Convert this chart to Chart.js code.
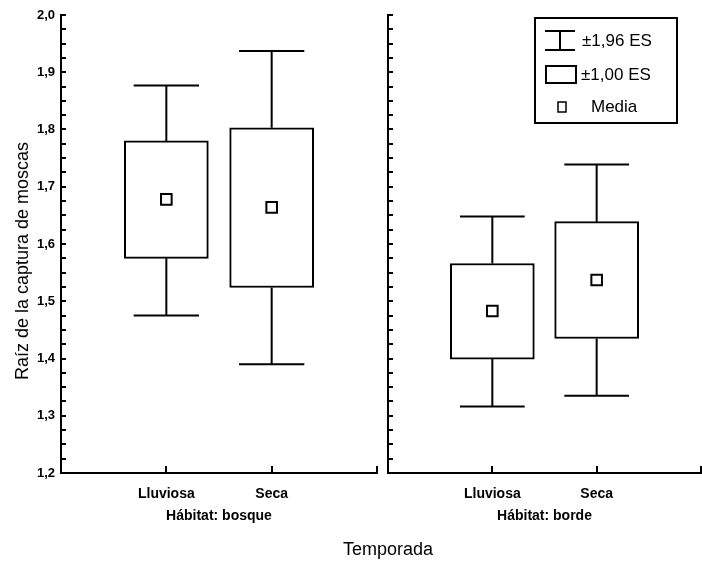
<!DOCTYPE html>
<html lang="es">
<head>
<meta charset="utf-8">
<title>Raíz de la captura de moscas</title>
<script src="https://cdn.jsdelivr.net/npm/chart.js@4.4.1/dist/chart.umd.min.js"></script>
<style>
  html, body { margin: 0; padding: 0; background: #fff; }
  #wrap { position: relative; width: 702px; height: 563px; }
  #wrap canvas { position: absolute; left: 0; top: 0; }
</style>
</head>
<body>
<div id="wrap">
  <canvas id="bosqueChart" width="702" height="563"></canvas>
  <canvas id="bordeChart" width="702" height="563"></canvas>
</div>
<script>
// Seasons on the x axis of each panel
const seasons = ["Lluviosa", "Seca"];

// Habitat "bosque": mean, ±1.00 SE and ±1.96 SE ranges per season
const bosqueMedia = [1.678, 1.664];
const bosqueES100 = [[1.575, 1.780], [1.524, 1.803]];
const bosqueES196 = [[1.475, 1.877], [1.390, 1.937]];

// Habitat "borde"
const bordeMedia = [1.483, 1.537];
const bordeES100 = [[1.399, 1.566], [1.435, 1.639]];
const bordeES196 = [[1.316, 1.648], [1.335, 1.739]];

// Y axis
const yTickValues = [1.2, 1.3, 1.4, 1.5, 1.6, 1.7, 1.8, 1.9, 2.0];
const yTickLabels = ["1,2", "1,3", "1,4", "1,5", "1,6", "1,7", "1,8", "1,9", "2,0"];

const legendLabels = ["±1,96 ES", "±1,00 ES", "Media"];

const FONT = "'Liberation Sans', Arial, Helvetica, sans-serif";
Chart.defaults.font.family = FONT;
Chart.defaults.color = "#000";

const CAP = 0.31; // half width of the whisker caps (x units)

// whisker segments: box edge -> limit, then the cap, split by null gaps
function whiskerData(box, range) {
  const pts = [];
  box.forEach((b, i) => {
    const x = i + 1;
    const [lo, hi] = range[i];
    pts.push(
      { x, y: b[1] }, { x, y: hi }, { x, y: null },
      { x: x - CAP, y: hi }, { x: x + CAP, y: hi }, { x, y: null },
      { x, y: b[0] }, { x, y: lo }, { x, y: null },
      { x: x - CAP, y: lo }, { x: x + CAP, y: lo }, { x, y: null }
    );
  });
  return pts;
}

function yLabel(v) {
  const k = yTickValues.findIndex((t) => Math.abs(t - v) < 1e-6);
  return k >= 0 ? yTickLabels[k] : "";
}

// small tick marks pointing into the plot
const innerTicks = {
  id: "innerTicks",
  afterDraw(chart) {
    const { ctx, chartArea: a, scales } = chart;
    const x = scales.x, y = scales.y;
    ctx.save();
    ctx.strokeStyle = "#000";
    ctx.lineWidth = 2;
    ctx.beginPath();
    y.ticks.forEach((t) => {
      const py = Math.round(y.getPixelForValue(t.value));
      ctx.moveTo(a.left, py);
      ctx.lineTo(a.left + 5, py);
    });
    x.ticks.map((t) => t.value).concat([x.max]).forEach((v) => {
      const px = Math.round(x.getPixelForValue(v));
      ctx.moveTo(px, a.bottom);
      ctx.lineTo(px, a.bottom - 7);
    });
    ctx.stroke();
    ctx.restore();
  },
};

// y title and the shared "Temporada" title
const outerTitles = {
  id: "outerTitles",
  afterDraw(chart) {
    const { ctx } = chart;
    ctx.save();
    ctx.fillStyle = "#000";
    ctx.font = "18px " + FONT;
    ctx.textAlign = "center";
    ctx.textBaseline = "middle";
    ctx.fillText("Temporada", 388, 550);
    ctx.translate(23, 261);
    ctx.rotate(-Math.PI / 2);
    ctx.fillText("Raíz de la captura de moscas", 0, 0);
    ctx.restore();
  },
};

// boxed legend: whisker, box and mean symbols
const esLegend = {
  id: "esLegend",
  afterDraw(chart) {
    const { ctx, chartArea: a } = chart;
    const left = a.right - 166, top = a.top + 3;
    ctx.save();
    ctx.strokeStyle = "#000";
    ctx.fillStyle = "#000";
    ctx.lineWidth = 2;
    ctx.strokeRect(left, top, 142, 105);

    ctx.beginPath();
    ctx.moveTo(left + 10, top + 13); ctx.lineTo(left + 40, top + 13);
    ctx.moveTo(left + 25, top + 13); ctx.lineTo(left + 25, top + 32);
    ctx.moveTo(left + 10, top + 32); ctx.lineTo(left + 40, top + 32);
    ctx.stroke();

    ctx.strokeRect(left + 11, top + 48, 30, 17);

    ctx.lineWidth = 1.5;
    ctx.strokeRect(left + 23, top + 84, 8, 10);

    ctx.font = "17px " + FONT;
    ctx.textBaseline = "middle";
    ctx.fillText(legendLabels[0], left + 47, top + 23);
    ctx.fillText(legendLabels[1], left + 46, top + 57);
    ctx.fillText(legendLabels[2], left + 56, top + 89);
    ctx.restore();
  },
};

function makePanel(id, media, es100, es196, habitat, isLeft) {
  const plugins = [innerTicks];
  if (isLeft) plugins.push(outerTitles);
  else plugins.push(esLegend);

  return new Chart(document.getElementById(id), {
    type: "bar",
    data: {
      datasets: [
        {
          type: "line",
          data: media.map((m, i) => ({ x: i + 1, y: m })),
          showLine: false,
          pointStyle: "rect",
          pointRadius: 7.5,
          pointBackgroundColor: "#fff",
          pointBorderColor: "#000",
          pointBorderWidth: 2,
          order: 0,
        },
        {
          type: "line",
          data: whiskerData(es100, es196),
          borderColor: "#000",
          borderWidth: 2,
          pointRadius: 0,
          spanGaps: false,
          order: 1,
        },
        {
          type: "bar",
          data: es100.map((b, i) => ({ x: i + 1, y: b })),
          backgroundColor: "#fff",
          borderColor: "#000",
          borderWidth: 2,
          borderSkipped: false,
          barThickness: 84,
          order: 2,
        },
      ],
    },
    options: {
      responsive: false,
      animation: false,
      events: [],
      layout: {
        autoPadding: false,
        padding: isLeft
          ? { top: 15, right: 325, bottom: 0, left: 0 }
          : { top: 15, right: 1, bottom: 0, left: 380 },
      },
      plugins: {
        legend: { display: false },
        tooltip: { enabled: false },
      },
      scales: {
        x: {
          type: "linear",
          min: 0,
          max: 3,
          offset: false,
          grid: { display: false, drawTicks: false },
          border: { display: true, color: "#000", width: 2 },
          afterBuildTicks: (s) => {
            s.ticks = seasons.map((_, i) => ({ value: i + 1 }));
          },
          ticks: {
            autoSkip: false,
            maxRotation: 0,
            padding: 13,
            font: { size: 14, weight: "bold" },
            callback: (v) => seasons[v - 1],
          },
          title: {
            display: true,
            text: "Hábitat: " + habitat,
            font: { size: 14, weight: "bold" },
            padding: { top: 0, bottom: 38 },
          },
          afterFit: (s) => {
            s.height = 90;
          },
        },
        y: {
          min: 1.2,
          max: 2.0,
          grid: { display: false, drawTicks: false },
          border: { display: true, color: "#000", width: 2 },
          ticks: {
            display: isLeft,
            stepSize: 0.025,
            autoSkip: false,
            padding: 6,
            font: { size: 13, weight: "bold" },
            callback: (v) => yLabel(v),
          },
          afterFit: (s) => {
            s.width = isLeft ? 61 : 8;
          },
        },
      },
    },
    plugins,
  });
}

makePanel("bosqueChart", bosqueMedia, bosqueES100, bosqueES196, "bosque", true);
makePanel("bordeChart", bordeMedia, bordeES100, bordeES196, "borde", false);
</script>
</body>
</html>
